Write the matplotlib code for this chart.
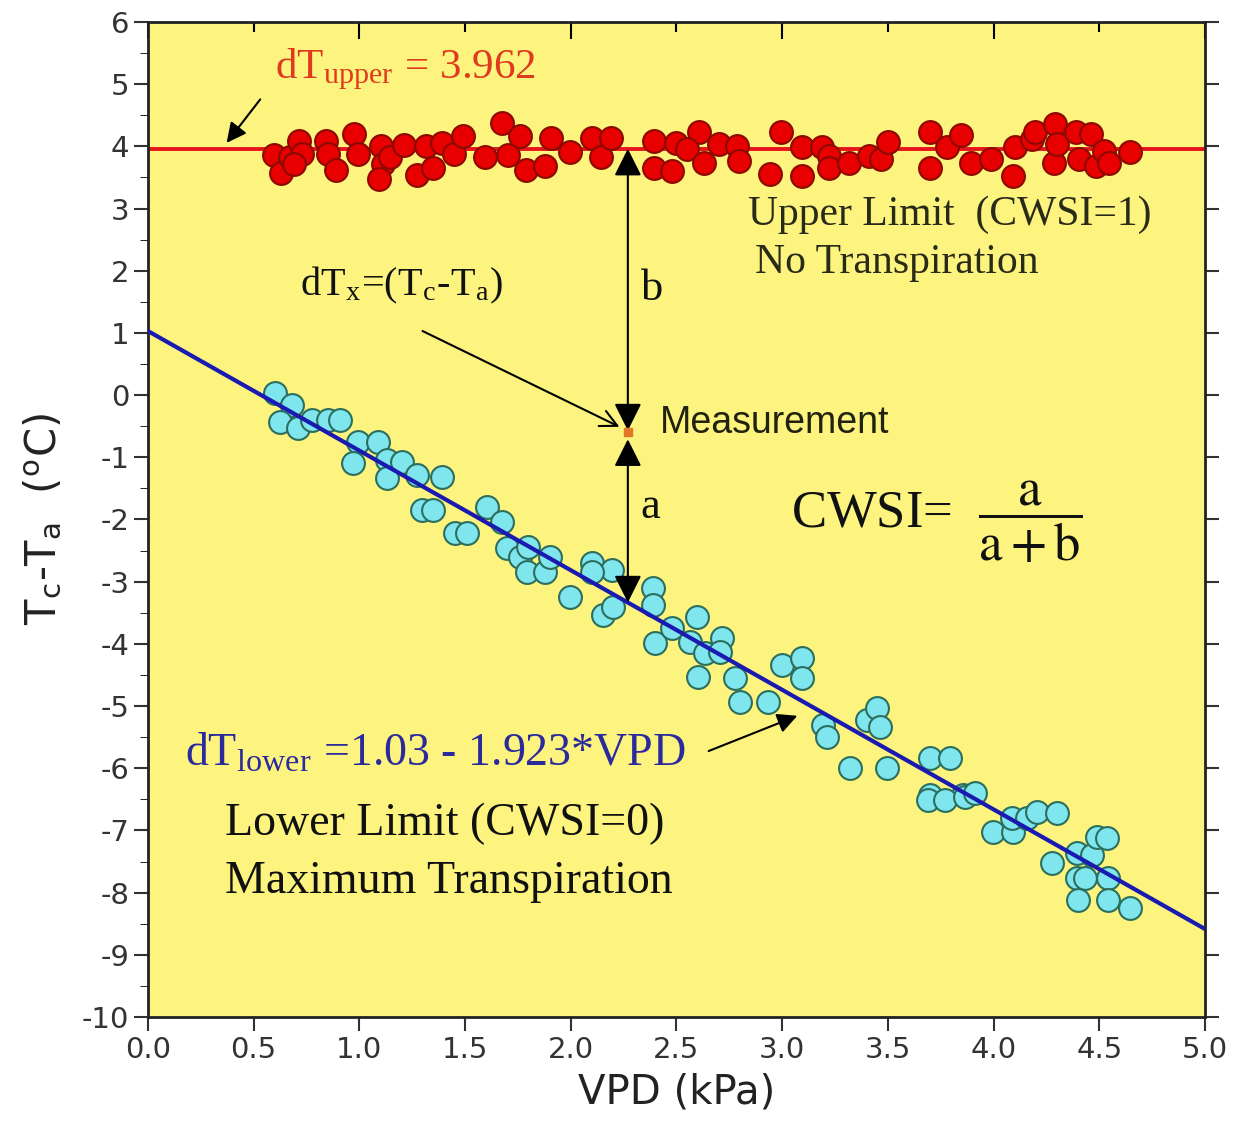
import matplotlib
matplotlib.use("Agg")
import matplotlib.pyplot as plt
from matplotlib.ticker import MultipleLocator, FormatStrFormatter
import numpy as np

# upper limit (non-transpiring) points
upper_vpd = [0.596, 0.629, 0.672, 0.714, 0.728, 0.691, 0.842, 0.851, 0.889, 0.974,
             0.993, 1.102, 1.112, 1.093, 1.145, 1.211, 1.272, 1.315, 1.348, 1.391,
             1.447, 1.490, 1.594, 1.675, 1.703, 1.760, 1.788, 1.878, 1.906, 1.996,
             2.100, 2.143, 2.190, 2.394, 2.394, 2.479, 2.498, 2.606, 2.550, 2.630,
             2.701, 2.786, 2.796, 2.994, 2.942, 3.094, 3.094, 3.188, 3.221, 3.221,
             3.316, 3.411, 3.467, 3.500, 3.699, 3.699, 3.780, 3.846, 3.893, 3.988,
             4.092, 4.101, 4.182, 4.196, 4.286, 4.290, 4.300, 4.390, 4.404, 4.461,
             4.484, 4.522, 4.546, 4.645]
upper_dt = [3.86, 3.57, 3.83, 4.09, 3.88, 3.72, 4.09, 3.88, 3.62, 4.20,
            3.88, 4.01, 3.72, 3.48, 3.83, 4.02, 3.54, 4.01, 3.65, 4.05,
            3.88, 4.17, 3.83, 4.38, 3.86, 4.17, 3.62, 3.69, 4.14, 3.91,
            4.14, 3.83, 4.14, 4.09, 3.65, 3.60, 4.05, 4.23, 3.96, 3.73,
            4.04, 4.01, 3.77, 4.23, 3.56, 3.99, 3.52, 3.99, 3.85, 3.65,
            3.73, 3.85, 3.80, 4.07, 4.23, 3.65, 3.99, 4.18, 3.73, 3.80,
            3.52, 3.99, 4.12, 4.23, 3.73, 4.36, 4.04, 4.23, 3.80, 4.20,
            3.69, 3.93, 3.73, 3.91]

# lower limit (well-watered) points
lower_vpd = [0.601, 0.681, 0.624, 0.710, 0.776, 0.851, 0.908, 0.993, 1.088, 0.970,
             1.131, 1.202, 1.131, 1.272, 1.391, 1.296, 1.348, 1.452, 1.509, 1.604,
             1.675, 1.698, 1.760, 1.798, 1.793, 1.878, 1.902, 1.996, 2.100, 2.195,
             2.152, 2.389, 2.389, 2.100, 2.200, 2.398, 2.479, 2.597, 2.564, 2.635,
             2.715, 2.706, 2.602, 2.777, 2.800, 2.933, 2.999, 3.094, 3.094, 3.193,
             3.212, 3.321, 3.401, 3.448, 3.463, 3.496, 3.699, 3.794, 3.699, 3.855,
             3.690, 3.770, 3.865, 3.912, 3.997, 4.092, 4.087, 4.158, 4.205, 4.300,
             4.276, 4.395, 4.466, 4.489, 4.536, 4.395, 4.432, 4.541, 4.399, 4.541,
             4.645]
lower_dt = [0.03, -0.16, -0.43, -0.53, -0.40, -0.40, -0.40, -0.75, -0.75, -1.09,
            -1.04, -1.07, -1.33, -1.28, -1.32, -1.85, -1.85, -2.22, -2.22, -1.80,
            -2.04, -2.46, -2.60, -2.44, -2.84, -2.84, -2.60, -3.25, -2.70, -2.81,
            -3.54, -3.10, -3.37, -2.85, -3.41, -3.99, -3.74, -3.57, -3.97, -4.15,
            -3.91, -4.13, -4.53, -4.55, -4.93, -4.93, -4.34, -4.23, -4.55, -5.30,
            -5.50, -6.00, -5.22, -5.03, -5.34, -6.00, -5.84, -5.84, -6.43, -6.43,
            -6.51, -6.51, -6.46, -6.40, -7.02, -7.02, -6.80, -6.80, -6.70, -6.72,
            -7.52, -7.36, -7.39, -7.10, -7.12, -7.76, -7.76, -7.76, -8.12, -8.12,
            -8.25]

dt_upper = 3.962
lower_a, lower_b = 1.03, -1.923
meas_vpd, meas_dt = 2.27, -0.59

serif = "Liberation Serif"
plt.rcParams["axes.unicode_minus"] = False
plt.rcParams["mathtext.fontset"] = "stix"

fig = plt.figure(figsize=(12.35, 11.32), dpi=100)
ax = fig.add_axes([0.1198, 0.1016, 0.8559, 0.8790])
ax.set_facecolor("#FCF47E")

line_x = np.array([0.0, 5.0])
ax.plot(line_x, [dt_upper, dt_upper], color="#E8141C", lw=2.8, zorder=2)
ax.plot(line_x, lower_a + lower_b * line_x, color="#1A1AB0", lw=3, zorder=4)

ax.scatter(upper_vpd, upper_dt, s=270, facecolor="#E80000", edgecolor="#8A0A00",
           linewidth=1.5, zorder=3)
ax.scatter(lower_vpd, lower_dt, s=270, facecolor="#80E6EE", edgecolor="#2B6E5E",
           linewidth=1.5, zorder=3)

# vertical a / b arrows at the measurement
lower_at_meas = lower_a + lower_b * meas_vpd
arrow_kw = dict(arrowstyle="<|-|>", color="black", lw=1.5, mutation_scale=42,
                shrinkA=0, shrinkB=0)
ax.annotate("", xy=(meas_vpd, dt_upper), xytext=(meas_vpd, meas_dt + 0.02),
            arrowprops=arrow_kw, zorder=5)
ax.annotate("", xy=(meas_vpd, lower_at_meas), xytext=(meas_vpd, meas_dt - 0.12),
            arrowprops=arrow_kw, zorder=5)
ax.plot([meas_vpd], [meas_dt], marker="s", ms=6, color="#E07828", zorder=6)

ax.text(2.33, 1.53, "b", fontsize=32, family=serif, color="#111111")
ax.text(2.33, -1.98, "a", fontsize=32, family=serif, color="#111111")
ax.text(2.42, -0.45, "Measurement", fontsize=27, family="Liberation Sans",
        color="#222211", va="center")

# labels and annotations
ax.text(0.60, 5.10, r"dT$_{\mathregular{upper}}$ = 3.962", fontsize=31,
        family=serif, color="#E03A1E")
ax.annotate("", xy=(0.364, 4.02), xytext=(0.539, 4.79),
            arrowprops=dict(arrowstyle="-|>", color="black", lw=1.5, mutation_scale=30))
ax.text(2.84, 2.74, "Upper Limit  (CWSI=1)", fontsize=30, family=serif, color="#2A2A18")
ax.text(2.87, 1.96, "No Transpiration", fontsize=30, family=serif, color="#2A2A18")

ax.text(0.72, 1.61, r"dT$_{\mathregular{x}}$=(T$_{\mathregular{c}}$-T$_{\mathregular{a}}$)",
        fontsize=29, family=serif, color="#111111")
ax.annotate("", xy=(2.242, -0.53), xytext=(1.287, 1.05),
            arrowprops=dict(arrowstyle="->", color="black", lw=1.5, mutation_scale=30))

ax.text(3.04, -2.04, r"CWSI=  $\dfrac{\mathrm{a}}{\mathrm{a + b}}$", fontsize=38,
        family=serif, color="#111111", va="center")

ax.text(0.175, -5.95, r"dT$_{\mathregular{lower}}$ =1.03 - 1.923*VPD", fontsize=33,
        family=serif, color="#2A2A9C")
ax.annotate("", xy=(3.084, -5.14), xytext=(2.64, -5.74),
            arrowprops=dict(arrowstyle="-|>", color="black", lw=1.5, mutation_scale=30))
ax.text(0.364, -7.07, "Lower Limit (CWSI=0)", fontsize=33, family=serif, color="#111111")
ax.text(0.364, -8.0, "Maximum Transpiration", fontsize=33, family=serif, color="#111111")

# axes
ax.set_xlim(0, 5)
ax.set_ylim(-10, 6)
ax.xaxis.set_major_locator(MultipleLocator(0.5))
ax.xaxis.set_major_formatter(FormatStrFormatter("%.1f"))
ax.yaxis.set_major_locator(MultipleLocator(1))
ax.yaxis.set_minor_locator(MultipleLocator(0.5))
ax.tick_params(axis="both", labelsize=21, colors="#333333", width=1.5)
ax.tick_params(axis="x", which="major", direction="out", length=10)
ax.tick_params(axis="y", which="major", direction="out", length=10, right=True)
ax.tick_params(axis="y", which="minor", direction="out", length=6)

top = ax.secondary_xaxis("top")
top.xaxis.set_major_locator(MultipleLocator(1))
top.xaxis.set_minor_locator(MultipleLocator(0.5))
top.tick_params(which="major", direction="in", length=12, width=1.5, labeltop=False)
top.tick_params(which="minor", direction="in", length=7, width=1.5)
top.set_xticklabels([])

for sp in ax.spines.values():
    sp.set_linewidth(2)
    sp.set_color("#222222")

ax.set_xlabel("VPD (kPa)", fontsize=29, color="#222222", labelpad=6)
ax.set_ylabel(r"T$_{\mathregular{c}}$-T$_{\mathregular{a}}$  ($^{\mathregular{o}}$C)",
              fontsize=30, color="#222222", labelpad=12)

fig.savefig("out.png", dpi=100, facecolor="white")
